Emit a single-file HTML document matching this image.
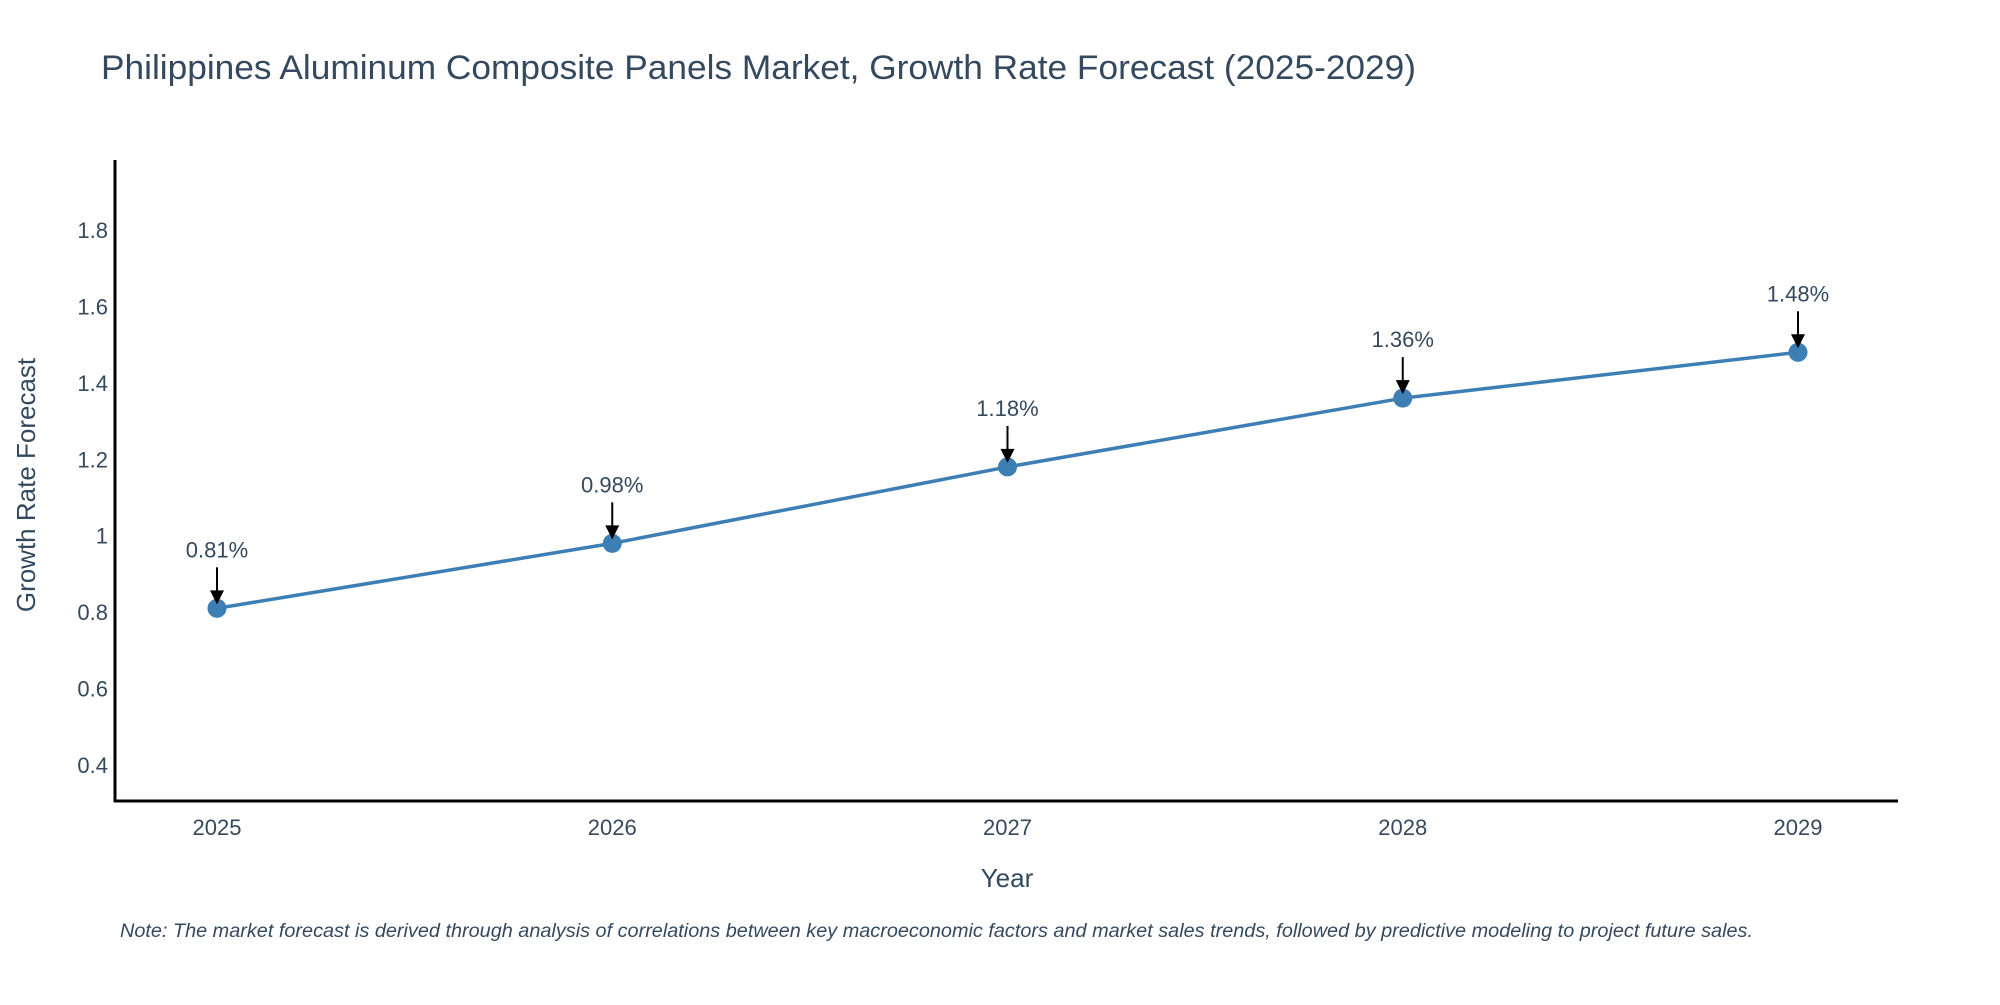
<!DOCTYPE html>
<html><head><meta charset="utf-8"><style>
body{margin:0;background:#fff;font-family:"Liberation Sans",sans-serif;}
svg text{font-family:"Liberation Sans",sans-serif;fill:#34495e;}
</style></head><body>
<svg id="chart" width="2000" height="1000" xmlns="http://www.w3.org/2000/svg">
<text x="101" y="79" font-size="34" textLength="1315" lengthAdjust="spacingAndGlyphs">Philippines Aluminum Composite Panels Market, Growth Rate Forecast (2025-2029)</text>
<g id="ticks"></g>
<g id="plot"></g>
<line x1="115" y1="160" x2="115" y2="802" stroke="#000" stroke-width="3"/>
<line x1="114" y1="801" x2="1898" y2="801" stroke="#000" stroke-width="3"/>
<text transform="translate(35,485) rotate(-90)" text-anchor="middle" font-size="26">Growth Rate Forecast</text>
<text x="1007" y="887" text-anchor="middle" font-size="26">Year</text>
<text x="120" y="937" font-size="19" font-style="italic" textLength="1633" lengthAdjust="spacingAndGlyphs">Note: The market forecast is derived through analysis of correlations between key macroeconomic factors and market sales trends, followed by predictive modeling to project future sales.</text>
</svg>
<script>
const years = ["2025","2026","2027","2028","2029"];
const growth = [0.81, 0.98, 1.18, 1.36, 1.48];
const labels = ["0.81%","0.98%","1.18%","1.36%","1.48%"];
const yTicks = [0.4,0.6,0.8,1,1.2,1.4,1.6,1.8];
const NS="http://www.w3.org/2000/svg";
function xPos(i){return 217+i*(1798-217)/4;}
function yPos(v){return 765-(v-0.4)*(765-230)/1.4;}
function mk(t,a,p){const e=document.createElementNS(NS,t);for(const k in a)e.setAttribute(k,a[k]);p.appendChild(e);return e;}
const tg=document.getElementById('ticks'),pg=document.getElementById('plot');
yTicks.forEach(v=>{const t=mk('text',{x:108,y:yPos(v)+8,'text-anchor':'end','font-size':22},tg);t.textContent=String(v);

});
years.forEach((y,i)=>{const t=mk('text',{x:xPos(i),y:835,'text-anchor':'middle','font-size':22},tg);t.textContent=y;

});
let d='';growth.forEach((v,i)=>{d+=(i?'L':'M')+xPos(i)+','+yPos(v);});
const ln=mk('path',{d:d,fill:'none',stroke:'#3d7fb5','stroke-width':3.5},pg);


growth.forEach((v,i)=>{const x=xPos(i),y=yPos(v);
const c=mk('circle',{cx:x,cy:y,r:9.5,fill:'#3d7fb5'},pg);


const a=mk('line',{x1:x,y1:y-41,x2:x,y2:y-16,stroke:'#000','stroke-width':2},pg);


const h=mk('path',{d:`M${x-7},${y-18} L${x+7},${y-18} L${x},${y-4} Z`,fill:'#000'},pg);


const t=mk('text',{x:x,y:y-51,'text-anchor':'middle','font-size':22},pg);t.textContent=labels[i];

});
</script>
</body></html>
